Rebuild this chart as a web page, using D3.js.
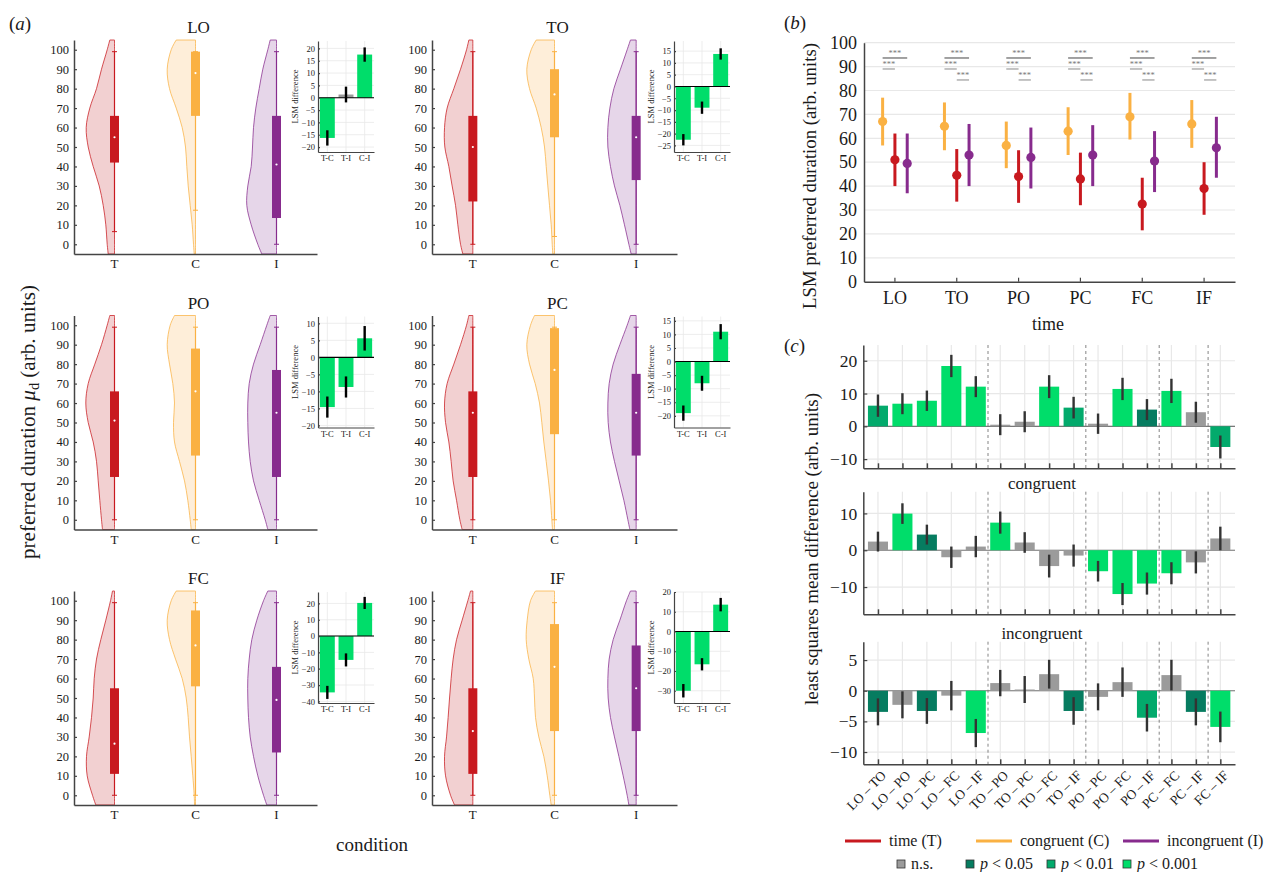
<!DOCTYPE html>
<html>
<head>
<meta charset="utf-8">
<script src="https://cdn.jsdelivr.net/npm/d3@7"></script>
<style>
  body { margin: 0; background: #fff; }
  svg { font-family: "Liberation Serif", "Times New Roman", serif; }
</style>
</head>
<body>
<svg id="fig" width="1264" height="872"></svg>
<script>
// ---------- data ----------
const times = ["LO", "TO", "PO", "PC", "FC", "IF"];
const conds = ["T", "C", "I"];
const condNames = ["time (T)", "congruent (C)", "incongruent (I)"];

// violin half-widths (relative density) at these preferred-duration levels
const violinLevels = [-5, 0, 10, 20, 30, 40, 50, 60, 70, 80, 90, 100, 105];
const violinT = [
    [6.3, 7.3, 8.7, 11.3, 15.3, 21.3, 26.3, 28.3, 24.7, 18, 13, 7.3, 4.7],
    [10, 12.3, 15, 17.3, 20.7, 24, 28, 28.3, 25.7, 19, 12.3, 6.3, 4],
    [12, 13, 14.7, 16.3, 18, 21.3, 26.3, 28.7, 26.3, 19.7, 13, 7.3, 4.7],
    [10.7, 13, 16.3, 19.7, 21.7, 24, 27.3, 28.3, 25.7, 19, 12.3, 6.3, 4],
    [18.7, 22, 27.3, 28, 25.3, 23, 21.3, 20.3, 18, 13.7, 8.7, 4, 2],
    [18.3, 22.3, 27.3, 28.3, 26.3, 24.7, 23.3, 21.7, 19.7, 16.3, 10.7, 5, 2.3]
];
const violinC = [
    [1.3, 2, 3.3, 5.3, 7.3, 8.7, 10, 13.3, 19.3, 26, 28.3, 24.3, 19.3],
    [1.7, 2.3, 3.3, 5, 6.7, 8.3, 10, 13.3, 18.3, 25, 27.7, 23.3, 18.3],
    [4.3, 5.3, 7.7, 11, 16, 21, 22, 21, 22.7, 26, 28.3, 25.3, 21],
    [2, 2.7, 4, 6, 8.3, 10.7, 12.7, 15, 19.3, 25, 27.7, 24, 20],
    [1, 1.3, 2.7, 4.3, 6, 7.3, 9.3, 13.3, 20, 26, 28.3, 24.3, 19.3],
    [3.3, 4.7, 7.3, 10.7, 15.7, 19, 20, 21.3, 25.7, 28.3, 27.3, 24, 19]
];
const violinI = [
    [14.7, 18.7, 25.3, 29.7, 28.7, 25.3, 24, 23, 20.7, 17.3, 13.7, 8.7, 6.3],
    [5, 7.3, 11.7, 16.3, 21.7, 25.7, 28.3, 28.3, 26.3, 22.3, 15.7, 9, 5.7],
    [8.7, 11.3, 17.3, 23, 26.3, 28, 28.7, 28.7, 27.3, 23, 16.3, 9.7, 6.3],
    [6.3, 8.3, 12.3, 17, 21.7, 25.7, 28, 28.3, 27, 23, 16.3, 9, 5.7],
    [9.7, 13, 18.7, 23, 26.3, 28, 28.7, 28.7, 27.3, 24.7, 19.7, 13, 8.7],
    [7.3, 9, 13, 17.3, 21.7, 25.7, 28, 28.3, 27, 23, 16.3, 9.7, 5.7]
];

// box stats: [whisker low, q1, median, q3, whisker high]
const boxT = [[6.5, 42, 55, 66, 99], [0, 22, 50, 66, 99], [0, 22, 51, 66, 99],
              [0, 22, 55, 66, 99], [0, 11, 26.5, 55, 99], [0, 11, 33, 55, 99]];
const boxC = [[17.5, 66, 88, 99, 99], [4, 55, 77, 90, 99], [0, 33, 66, 88, 99],
              [0, 44, 77, 98.5, 99], [0, 56, 77, 95, 99], [0, 33, 66, 88, 99]];
const boxI = [[0, 13.5, 41, 66, 99], [0, 33, 55, 66, 99], [0, 22, 55, 77, 99],
              [0, 33, 55, 75, 99], [0, 22, 49, 66, 99], [0, 33, 55, 77, 99]];

// insets: LSM differences between conditions
const insetPairs = ["T-C", "T-I", "C-I"];
const insetValues = [[-16.3, 1.3, 17.5], [-22.6, -9, 13.8], [-14.6, -8.7, 5.6],
                     [-19, -8, 11], [-34.5, -14.6, 20.3], [-30, -16.6, 13.6]];
const insetErrors = [[3.1, 3.2, 2.9], [2.4, 2.6, 2.4], [3.1, 3.1, 3.6],
                     [2.8, 2.75, 2.8], [4, 4, 3.7], [3.4, 3.1, 3.4]];
const insetSig = [[3, 0, 3], [3, 3, 3], [3, 3, 3], [3, 3, 3], [3, 3, 3], [3, 3, 3]];
const insetDomains = [[-22, 23], [-27.8, 19.3], [-20.6, 12], [-24.3, 16.6], [-41, 27], [-36.2, 20]];
const insetTickStep = [5, 5, 5, 5, 10, 10];

// panel b: LSM preferred duration [mean, ci low, ci high]
const lsmT = [[51, 40, 62], [44.5, 33.5, 55.5], [44, 33, 55], [43, 32, 54], [32.5, 21.5, 43.5], [39, 28, 50]];
const lsmC = [[67, 57, 77], [65, 55, 75], [57, 47.5, 67], [63, 53, 73], [69, 59.5, 79], [66, 56, 76]];
const lsmI = [[49.5, 37, 62], [53, 40, 66], [52, 39, 64.5], [53, 40, 65.5], [50.5, 37.5, 63], [56, 43.5, 69]];
const starPairs = [["C", "I"], ["C", "T"], ["T", "I"]];
const starLevels = [93.6, 89, 84.4];
const starShown = [[1, 1, 0], [1, 1, 1], [1, 1, 1], [1, 1, 1], [1, 1, 1], [1, 1, 1]];

// panel c: pairwise time differences
const pairLabels = ["LO – TO", "LO – PO", "LO – PC", "LO – FC", "LO – IF", "TO – PO", "TO – PC", "TO – FC",
                    "TO – IF", "PO – PC", "PO – FC", "PO – IF", "PC – FC", "PC – IF", "FC – IF"];
const groupBreaks = [4.5, 8.5, 11.5, 13.5];
const diffTime = [6.3, 6.9, 7.8, 18.4, 12.1, 0.5, 1.4, 12.1, 5.7, 0.8, 11.4, 5.1, 10.8, 4.3, -6.3];
const errTime = [3.4, 3.2, 3.1, 3.4, 3.2, 3.2, 3.2, 3.5, 3.3, 3.1, 3.4, 3.2, 3.7, 3.2, 3.5];
const sigTime = [2, 3, 3, 3, 3, 0, 0, 3, 2, 0, 3, 1, 3, 0, 2];
const diffCong = [2.35, 9.95, 4.25, -1.9, 1.0, 7.5, 2.1, -4.3, -1.45, -5.7, -11.9, -9.05, -6.25, -3.3, 3.2];
const errCong = [2.7, 2.8, 2.7, 2.9, 2.9, 3.0, 2.8, 3.1, 3.0, 2.8, 3.0, 3.0, 3.0, 3.0, 3.2];
const sigCong = [0, 3, 1, 0, 0, 3, 0, 0, 0, 3, 3, 3, 3, 0, 0];
const diffIncong = [-3.45, -2.3, -3.3, -0.8, -6.9, 1.25, 0.2, 2.7, -3.3, -1.0, 1.4, -4.4, 2.55, -3.45, -5.9];
const errIncong = [2.2, 2.2, 2.1, 2.4, 2.3, 2.15, 2.2, 2.35, 2.25, 2.2, 2.4, 2.25, 2.5, 2.2, 2.5];
const sigIncong = [1, 0, 1, 0, 3, 0, 0, 0, 1, 0, 0, 2, 0, 1, 3];
const diffDomains = [[-12.8, 24.8], [-17.4, 15.9], [-12, 8]];
const diffTicks = [[-10, 0, 10, 20], [-10, 0, 10], [-10, -5, 0, 5]];
const diffTitles = ["", "congruent", "incongruent"];
const sigLabels = ["n.s.", "0.05", "0.01", "0.001"];

// ---------- style ----------
const condColor = { T: "#c8191f", C: "#fab143", I: "#872b8d" };
const condFill = { T: "#f2d0d1", C: "#feeed9", I: "#e6d6e9" };
const sigColor = ["#9b9b9b", "#067c60", "#03aa6c", "#00dd6a"];
const spine = "#444", gridC = "#e8e8e8", txt = "#1a1a1a";

const svg = d3.select("#fig");

function styleAxis(g, size) {
    g.attr("font-family", null).attr("font-size", null);
    g.selectAll("text").attr("font-size", size).attr("fill", txt);
    g.selectAll(".tick line").attr("stroke", spine).attr("stroke-width", 1.2);
    g.select(".domain").attr("stroke", spine).attr("stroke-width", 1.5);
}

// scale a label's font so it spans the given length
function fitText(t, target) {
    const size = +t.attr("font-size");
    const len = t.node().getComputedTextLength();
    t.attr("font-size", size * target / len);
}

// ---------- panel a ----------
svg.append("text").attr("x", 9).attr("y", 30).attr("font-size", 19).attr("fill", txt)
    .html('(<tspan font-style="italic">a</tspan>)');

const violins = { T: violinT, C: violinC, I: violinI };
const boxes = { T: boxT, C: boxC, I: boxI };

times.forEach((t, i) => {
    const col = i % 2, row = Math.floor(i / 2);
    const x0 = col ? 432 : 74, x1 = col ? 677 : 317;
    const yTop = 40 + row * 275.5, yBot = 254 + row * 275.5;
    const x = d3.scaleBand().domain(conds).range([x0, x1]);
    const y = d3.scaleLinear().domain([-5, 105]).range([yBot, yTop]);
    const w = d3.scaleLinear().domain([0, 30]).range([0, 30]);
    const g = svg.append("g");

    g.append("text").attr("x", (x0 + x1) / 2 + 3).attr("y", yTop - 7)
        .attr("text-anchor", "middle").attr("font-size", 17).attr("fill", txt).text(t);

    conds.forEach(c => {
        const cx = x(c) + x.bandwidth() / 2;
        const area = d3.area().curve(d3.curveCatmullRom)
            .y((d, k) => y(violinLevels[k]))
            .x0(d => cx - w(d)).x1(cx);
        g.append("path").attr("d", area(violins[c][i]))
            .attr("fill", condFill[c]).attr("stroke", condColor[c])
            .attr("stroke-opacity", 0.75).attr("stroke-width", 1);
        const [lo, q1, med, q3, hi] = boxes[c][i];
        g.append("line").attr("x1", cx).attr("x2", cx).attr("y1", y(lo)).attr("y2", y(hi))
            .attr("stroke", condColor[c]).attr("stroke-width", 1.2);
        [lo, hi].forEach(v => g.append("line").attr("x1", cx - 2.5).attr("x2", cx + 2.5)
            .attr("y1", y(v)).attr("y2", y(v)).attr("stroke", condColor[c]).attr("stroke-width", 1));
        g.append("rect").attr("x", cx - 4.5).attr("width", 9)
            .attr("y", y(q3)).attr("height", y(q1) - y(q3)).attr("fill", condColor[c]);
        g.append("circle").attr("cx", cx).attr("cy", y(med)).attr("r", 1.1).attr("fill", "#fff");
    });

    const ay = g.append("g").attr("transform", `translate(${x0},0)`)
        .call(d3.axisLeft(y).tickValues(d3.range(0, 101, 10)).tickSize(-3).tickSizeOuter(0).tickPadding(5));
    styleAxis(ay, 12.5);
    const ax = g.append("g").attr("transform", `translate(0,${yBot})`)
        .call(d3.axisBottom(x).tickSize(0).tickPadding(5));
    styleAxis(ax, 13);

    // inset
    const ix0 = col ? 674 : 318, ix1 = ix0 + 56;
    const iyTop = yTop + 1, iyBot = yTop + 112;
    const ix = d3.scaleBand().domain(insetPairs).range([ix0, ix1]).paddingInner(0.2).paddingOuter(0.1);
    const iy = d3.scaleLinear().domain(insetDomains[i]).range([iyBot, iyTop]);
    const step = insetTickStep[i];
    const iticks = d3.range(Math.ceil(insetDomains[i][0] / step) * step, insetDomains[i][1] + 0.01, step);
    const ig = svg.append("g");
    ig.selectAll(".hg").data(iticks).join("line")
        .attr("x1", ix0).attr("x2", ix1).attr("y1", d => iy(d)).attr("y2", d => iy(d))
        .attr("stroke", gridC).attr("stroke-width", 0.8);
    ig.selectAll(".vg").data(insetPairs).join("line")
        .attr("x1", d => ix(d) + ix.bandwidth() / 2).attr("x2", d => ix(d) + ix.bandwidth() / 2)
        .attr("y1", iyTop).attr("y2", iyBot).attr("stroke", gridC).attr("stroke-width", 0.8);
    insetPairs.forEach((p, k) => {
        const v = insetValues[i][k], e = insetErrors[i][k];
        const bx = ix(p) + ix.bandwidth() / 2;
        ig.append("rect").attr("x", ix(p)).attr("width", ix.bandwidth())
            .attr("y", iy(Math.max(0, v))).attr("height", Math.abs(iy(v) - iy(0)))
            .attr("fill", sigColor[insetSig[i][k]]);
        ig.append("line").attr("x1", bx).attr("x2", bx).attr("y1", iy(v - e)).attr("y2", iy(v + e))
            .attr("stroke", "#000").attr("stroke-width", 2.4);
    });
    ig.append("line").attr("x1", ix0).attr("x2", ix1).attr("y1", iy(0)).attr("y2", iy(0))
        .attr("stroke", "#000").attr("stroke-width", 1.1);
    const iay = ig.append("g").attr("transform", `translate(${ix0},0)`)
        .call(d3.axisLeft(iy).tickValues(iticks).tickSize(-2).tickSizeOuter(0).tickPadding(3));
    styleAxis(iay, 8.5);
    iay.select(".domain").attr("stroke-width", 1.2);
    const iax = ig.append("g").attr("transform", `translate(0,${iyBot})`)
        .call(d3.axisBottom(ix).tickSize(0).tickPadding(3));
    styleAxis(iax, 8.5);
    iax.select(".domain").attr("stroke-width", 1.2);
    ig.append("text").attr("transform", `translate(${ix0 - 20},${(iyTop + iyBot) / 2}) rotate(-90)`)
        .attr("text-anchor", "middle").attr("font-size", 8.5).attr("fill", txt).text("LSM difference");
});

const aLabel = svg.append("text").attr("transform", "translate(35,422) rotate(-90)")
    .attr("text-anchor", "middle").attr("font-size", 19).attr("fill", txt)
    .html('preferred duration <tspan font-style="italic">μ</tspan><tspan font-size="0.68em" dy="0.28em">d</tspan><tspan dy="-0.19em"> (arb. units)</tspan>');
fitText(aLabel, 274);
svg.append("text").attr("x", 372).attr("y", 851).attr("text-anchor", "middle")
    .attr("font-size", 19).attr("fill", txt).text("condition");

// ---------- panel b ----------
svg.append("text").attr("x", 784).attr("y", 29).attr("font-size", 19).attr("fill", txt)
    .html('(<tspan font-style="italic">b</tspan>)');
{
    const x = d3.scaleBand().domain(times).range([864, 1235]);
    const y = d3.scaleLinear().domain([0, 100]).range([281.7, 42.7]);
    const off = { C: -12.3, T: 0, I: 12.3 };
    const lsm = { T: lsmT, C: lsmC, I: lsmI };
    const g = svg.append("g");
    g.selectAll(".grid").data(d3.range(10, 101, 10)).join("line")
        .attr("x1", 864).attr("x2", 1235).attr("y1", d => y(d)).attr("y2", d => y(d))
        .attr("stroke", gridC).attr("stroke-width", 1.2);
    times.forEach((t, i) => {
        const gx = x(t) + x.bandwidth() / 2;
        ["C", "T", "I"].forEach(c => {
            const [m, lo, hi] = lsm[c][i];
            g.append("line").attr("x1", gx + off[c]).attr("x2", gx + off[c])
                .attr("y1", y(lo)).attr("y2", y(hi)).attr("stroke", condColor[c]).attr("stroke-width", 3);
            g.append("circle").attr("cx", gx + off[c]).attr("cy", y(m)).attr("r", 4.6).attr("fill", condColor[c]);
        });
        starPairs.forEach(([a, b], k) => {
            if (!starShown[i][k]) return;
            const xa = gx + off[a], xb = gx + off[b], ly = y(starLevels[k]);
            g.append("line").attr("x1", xa).attr("x2", xb).attr("y1", ly).attr("y2", ly)
                .attr("stroke", k === 0 ? "#444" : "#888").attr("stroke-width", 1);
            g.append("text").attr("x", (xa + xb) / 2).attr("y", ly - 1.5).attr("text-anchor", "middle")
                .attr("font-size", 8.5).attr("fill", "#777").text("***");
        });
    });
    const ay = g.append("g").attr("transform", "translate(864,0)")
        .call(d3.axisLeft(y).tickValues(d3.range(0, 101, 10)).tickSize(0).tickPadding(7));
    styleAxis(ay, 18);
    const ax = g.append("g").attr("transform", "translate(0,281.7)")
        .call(d3.axisBottom(x).tickSize(-4).tickSizeOuter(0).tickPadding(9.5));
    styleAxis(ax, 18);
    const bLabel = g.append("text").attr("transform", "translate(816,176) rotate(-90)").attr("text-anchor", "middle")
        .attr("font-size", 17).attr("fill", txt).text("LSM preferred duration (arb. units)");
    fitText(bLabel, 266);
    g.append("text").attr("x", 1048).attr("y", 330).attr("text-anchor", "middle")
        .attr("font-size", 18).attr("fill", txt).text("time");
}

// ---------- panel c ----------
svg.append("text").attr("x", 784).attr("y", 352).attr("font-size", 19).attr("fill", txt)
    .html('(<tspan font-style="italic">c</tspan>)');
{
    const x = d3.scaleLinear().domain([-0.6, 14.6]).range([863.3, 1235]);
    const bw = x(0.41) - x(0);
    const rows = [[345, 468.3], [491.7, 614.3], [641.7, 764.3]];
    const diffs = [diffTime, diffCong, diffIncong];
    const errs = [errTime, errCong, errIncong];
    const sigs = [sigTime, sigCong, sigIncong];
    const idx = d3.range(pairLabels.length);
    rows.forEach(([top, bot], r) => {
        const y = d3.scaleLinear().domain(diffDomains[r]).range([bot, top]);
        const g = svg.append("g");
        g.selectAll(".hg").data(diffTicks[r]).join("line")
            .attr("x1", 863.3).attr("x2", 1235).attr("y1", d => y(d)).attr("y2", d => y(d))
            .attr("stroke", gridC).attr("stroke-width", 1.2);
        g.selectAll(".vg").data(idx).join("line")
            .attr("x1", d => x(d)).attr("x2", d => x(d)).attr("y1", top).attr("y2", bot)
            .attr("stroke", gridC).attr("stroke-width", 1.2);
        g.selectAll(".br").data(groupBreaks).join("line")
            .attr("x1", d => x(d)).attr("x2", d => x(d)).attr("y1", top).attr("y2", bot)
            .attr("stroke", "#777").attr("stroke-width", 0.9).attr("stroke-dasharray", "3,3");
        g.append("line").attr("x1", 863.3).attr("x2", 1235).attr("y1", y(0)).attr("y2", y(0))
            .attr("stroke", "#777").attr("stroke-width", 1.2);
        g.selectAll(".bar").data(idx).join("rect")
            .attr("x", d => x(d) - bw).attr("width", 2 * bw)
            .attr("y", d => y(Math.max(0, diffs[r][d])))
            .attr("height", d => Math.abs(y(diffs[r][d]) - y(0)))
            .attr("fill", d => sigColor[sigs[r][d]]);
        g.selectAll(".err").data(idx).join("line")
            .attr("x1", d => x(d)).attr("x2", d => x(d))
            .attr("y1", d => y(diffs[r][d] - errs[r][d])).attr("y2", d => y(diffs[r][d] + errs[r][d]))
            .attr("stroke", "#333").attr("stroke-width", 2.4);
        const ay = g.append("g").attr("transform", "translate(863.3,0)")
            .call(d3.axisLeft(y).tickValues(diffTicks[r]).tickSize(-4).tickSizeOuter(0).tickPadding(6));
        styleAxis(ay, 17.5);
        const ax = g.append("g").attr("transform", `translate(0,${bot})`)
            .call(d3.axisBottom(x).tickValues(idx).tickSize(-5).tickSizeOuter(0).tickFormat(""));
        styleAxis(ax, 13);
        ax.selectAll(".tick line").attr("stroke-width", 1.5);
        if (diffTitles[r]) {
            g.append("text").attr("x", 1042).attr("y", top - 3).attr("text-anchor", "middle")
                .attr("font-size", 17).attr("fill", txt).text(diffTitles[r]);
        }
        if (r === 2) {
            g.selectAll(".xl").data(idx).join("text")
                .attr("transform", d => `translate(${x(d) + 9},${bot + 12}) rotate(-45)`)
                .attr("text-anchor", "end").attr("font-size", 13.5).attr("fill", txt)
                .text(d => pairLabels[d]);
        }
    });
    const cLabel = svg.append("text").attr("transform", "translate(818,549) rotate(-90)").attr("text-anchor", "middle")
        .attr("font-size", 17).attr("fill", txt).text("least squares mean difference (arb. units)");
    fitText(cLabel, 312);
}

// ---------- legend ----------
{
    const lineX = [845, 976, 1123];
    conds.forEach((c, k) => {
        svg.append("line").attr("x1", lineX[k]).attr("x2", lineX[k] + 36).attr("y1", 841).attr("y2", 841)
            .attr("stroke", condColor[c]).attr("stroke-width", 3);
        svg.append("text").attr("x", lineX[k] + 44).attr("y", 846).attr("font-size", 16).attr("fill", txt)
            .text(condNames[k]);
    });
    const boxX = [897, 966, 1047, 1123];
    sigLabels.forEach((s, k) => {
        svg.append("rect").attr("x", boxX[k]).attr("y", 860).attr("width", 8).attr("height", 8)
            .attr("fill", sigColor[k]).attr("stroke", "#333").attr("stroke-width", 0.8);
        const t = svg.append("text").attr("x", boxX[k] + 14).attr("y", 869).attr("font-size", 16).attr("fill", txt);
        if (k === 0) t.text(s);
        else t.html(`<tspan font-style="italic">p</tspan> &lt; ${s}`);
    });
}
</script>
</body>
</html>
